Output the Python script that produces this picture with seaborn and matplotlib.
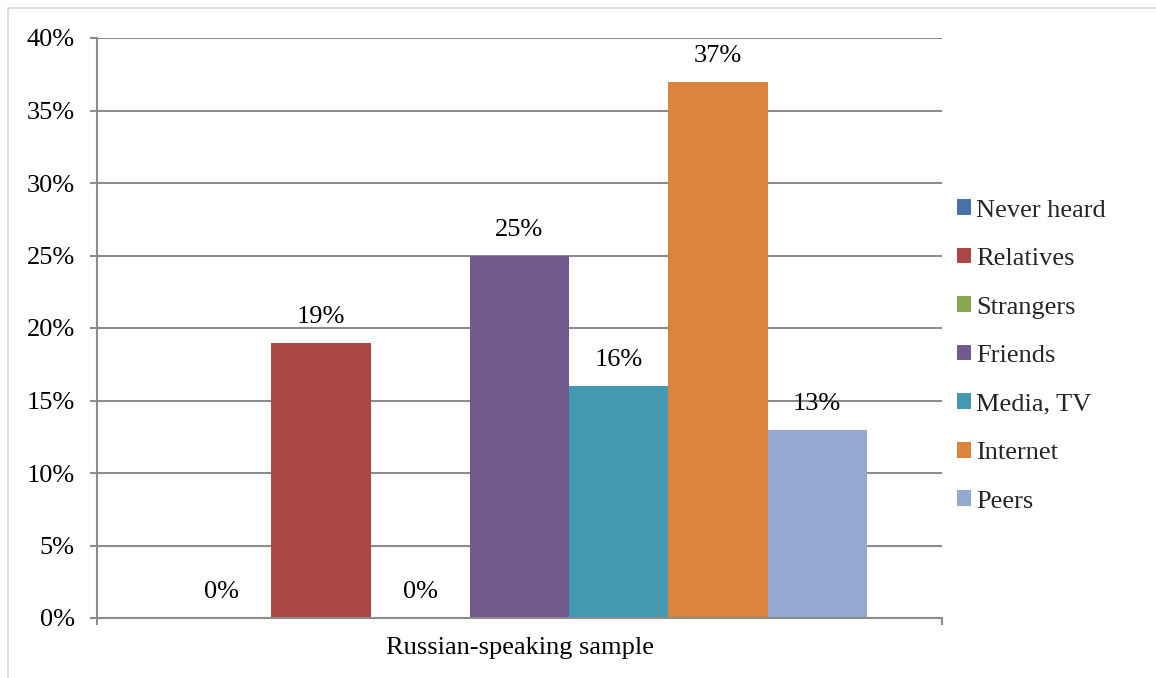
import matplotlib
matplotlib.use("Agg")
import matplotlib.pyplot as plt
import seaborn as sns
import pandas as pd
from matplotlib.patches import Patch, Rectangle
from matplotlib.ticker import FixedLocator, MultipleLocator, PercentFormatter

# Survey data: where respondents first heard about the topic
group = "Russian-speaking sample"
sources = ["Never heard", "Relatives", "Strangers", "Friends", "Media, TV", "Internet", "Peers"]
shares = [0, 19, 0, 25, 16, 37, 13]
colors = ["#4672A8", "#AB4846", "#8AA64F", "#725A8E", "#4299B0", "#DB843D", "#94A9CF"]

df = pd.DataFrame({"group": [group] * len(sources), "source": sources, "share": shares})

sns.set_theme(style="white")
plt.rcParams["font.family"] = ["Liberation Serif", "DejaVu Serif"]
FS = 19
GRAY = "#8C8C8C"

fig = plt.figure(figsize=(11.56, 6.78), dpi=100)
ax = fig.add_axes([97 / 1156, 1 - 618 / 678, (942 - 97) / 1156, (618 - 38) / 678])

sns.barplot(data=df, x="group", y="share", hue="source", hue_order=sources,
            palette=colors, width=0.822, gap=0, saturation=1, ax=ax,
            legend=False, errorbar=None, linewidth=0, edgecolor="none")

ax.set_xlim(-0.5, 0.5)
ax.set_ylim(0, 40)
ax.yaxis.set_major_locator(MultipleLocator(5))
ax.yaxis.set_major_formatter(PercentFormatter(decimals=0))
ax.grid(axis="y", color=GRAY, linewidth=1.5)
ax.set_axisbelow(True)
for s in ["top", "right"]:
    ax.spines[s].set_visible(False)
for s in ["left", "bottom"]:
    ax.spines[s].set_color(GRAY)
    ax.spines[s].set_linewidth(1.5)

ax.tick_params(axis="y", which="major", left=True, length=5, width=1.5, color=GRAY,
               labelsize=FS, labelcolor="black", pad=11)
ax.set_xticks([0])
ax.set_xticklabels([group])
ax.tick_params(axis="x", which="major", length=0, labelsize=FS, labelcolor="black", pad=14)
ax.xaxis.set_minor_locator(FixedLocator([-0.5, 0.5]))
ax.tick_params(axis="x", which="minor", bottom=True, length=5, width=1.5, color=GRAY)
ax.set_xlabel("")
ax.set_ylabel("")

# Value labels above each bar
for container, val in zip(ax.containers, shares):
    for bar in container:
        ax.annotate(f"{val}%", (bar.get_x() + bar.get_width() / 2, bar.get_height()),
                    xytext=(0, 18.5), textcoords="offset points",
                    ha="center", va="center", fontsize=FS, color="black")

handles = [Patch(facecolor=c, edgecolor="none") for c in colors]
leg = fig.legend(handles, sources, loc="center left", bbox_to_anchor=(957 / 1156, 1 - 356 / 678),
                 frameon=False, fontsize=FS, handlelength=0.53, handleheight=0.53,
                 handletextpad=0.2, labelspacing=1.0, borderaxespad=0, borderpad=0)

# Light outer frame
fig.add_artist(Rectangle((8 / 1156, -0.1), 1.2, 1 - 8 / 678 + 0.1, transform=fig.transFigure,
                         fill=False, edgecolor="#D9D9D9", linewidth=1.2))

fig.savefig("out.png", dpi=100)
